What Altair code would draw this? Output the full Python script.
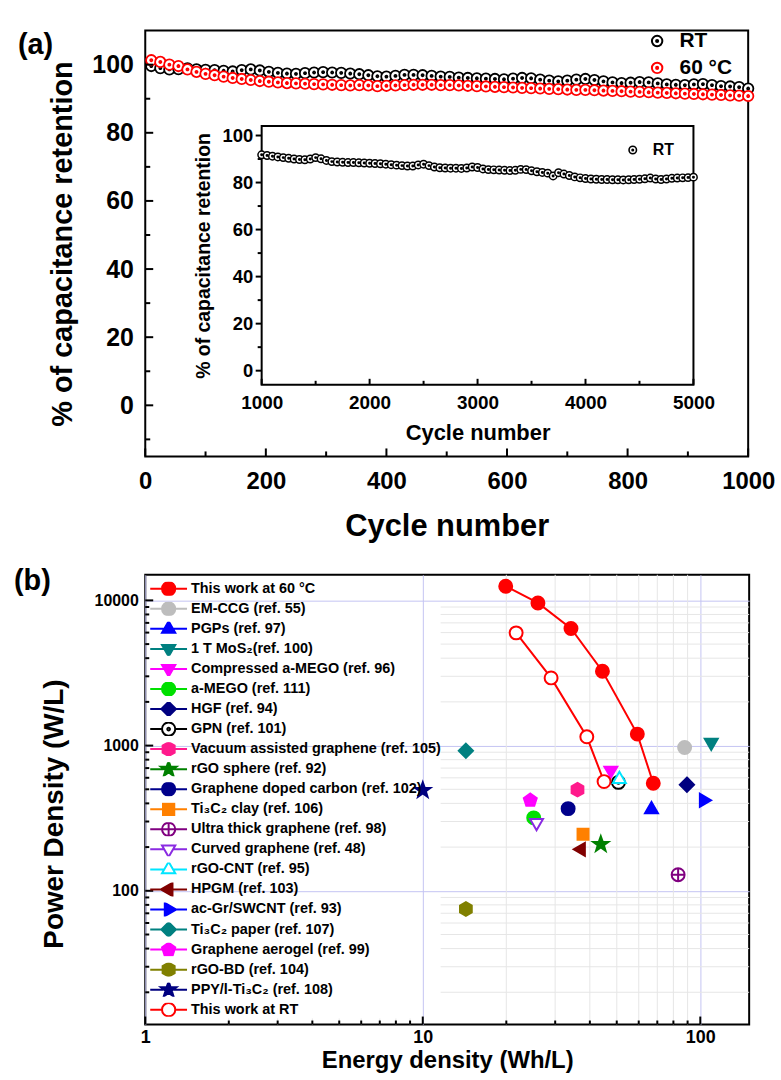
import math
import pandas as pd
import altair as alt

FONT = "Liberation Sans"

# ---------------- panel (a): capacitance retention over 1000 cycles ----------------
CYCLE_START, CYCLE_STEP = 10, 15
rt_retention = [99.6, 99.0, 98.6, 98.7, 98.9, 98.6, 98.5, 98.4, 98.2, 98.0,
                98.4, 98.6, 98.3, 97.9, 97.6, 97.4, 97.3, 97.5, 97.7, 97.8,
                97.7, 97.6, 97.4, 97.2, 96.9, 96.6, 96.5, 96.7, 97.0, 97.0,
                96.9, 96.7, 96.5, 96.4, 96.2, 96.1, 96.0, 95.9, 95.8, 95.7,
                95.9, 96.1, 96.0, 95.6, 95.3, 95.1, 95.3, 95.6, 95.8, 95.5,
                95.1, 94.8, 94.6, 94.7, 94.9, 94.8, 94.5, 94.2, 94.1, 94.0,
                94.2, 94.3, 94.0, 93.7, 93.6, 93.4, 93.0]
hot_retention = [101.3, 100.8, 100.0, 99.6, 98.6, 97.9, 97.3, 96.9, 96.5, 96.1,
                 95.8, 95.5, 95.2, 95.0, 94.8, 94.6, 94.5, 94.4, 94.3, 94.2,
                 94.1, 94.0, 93.9, 94.0, 93.9, 93.7, 93.8, 93.9, 94.0, 94.1,
                 94.1, 94.1, 94.0, 94.0, 93.9, 93.8, 93.7, 93.6, 93.5, 93.4,
                 93.3, 93.2, 93.1, 93.0, 92.9, 92.8, 92.7, 92.6, 92.6, 92.5,
                 92.4, 92.3, 92.2, 92.1, 92.0, 91.9, 91.8, 91.7, 91.6, 91.5,
                 91.4, 91.3, 91.2, 91.1, 91.0, 90.9, 90.8]
series_a = ["RT", "60 \u00b0C"]
colors_a = ["black", "red"]

# inset: RT from 1000 to 5000 cycles
INSET_START, INSET_STEP = 1000, 50
inset_retention = [91.8, 91.5, 91.2, 90.9, 90.6, 90.3, 90.0, 89.8, 89.7, 90.0,
                   90.6, 90.1, 89.4, 88.9, 88.7, 88.6, 88.5, 88.5, 88.4, 88.3,
                   88.2, 88.1, 88.0, 87.8, 87.6, 87.4, 87.2, 87.0, 87.0, 87.5,
                   87.8, 87.2, 86.6, 86.3, 86.2, 86.1, 86.1, 86.0, 86.2, 86.6,
                   86.4, 85.8, 85.5, 85.4, 85.3, 85.2, 85.1, 85.2, 85.6, 85.5,
                   85.0, 84.6, 84.3, 84.0, 82.8, 84.2, 83.6, 83.0, 82.4, 82.0,
                   81.7, 81.5, 81.4, 81.3, 81.3, 81.2, 81.2, 81.1, 81.2, 81.3,
                   81.4, 81.6, 81.9, 81.5, 81.3, 81.5, 81.8, 81.9, 82.0, 82.1,
                   82.3]

a_x_domain = [0, 1000]
a_y_domain = [-15, 110]
a_x_major = [0, 200, 400, 600, 800, 1000]
a_x_minor = [100, 300, 500, 700, 900]
a_y_major = [0, 20, 40, 60, 80, 100]
a_y_minor = [-10, 10, 30, 50, 70, 90]

in_x_domain = [1000, 5000]
in_y_domain = [-6, 104]
in_x_major = [1000, 2000, 3000, 4000, 5000]
in_x_minor = [1500, 2500, 3500, 4500]
in_y_major = [0, 20, 40, 60, 80, 100]
in_y_minor = [10, 30, 50, 70, 90]

# ---------------- panel (b): Ragone plot ----------------
names_b = ["This work at 60 \u00b0C", "EM-CCG (ref. 55)", "PGPs (ref. 97)",
           "1 T MoS\u2082(ref. 100)", "Compressed a-MEGO (ref. 96)", "a-MEGO (ref. 111)",
           "HGF (ref. 94)", "GPN (ref. 101)", "Vacuum assisted graphene (ref. 105)",
           "rGO sphere (ref. 92)", "Graphene doped carbon (ref. 102)",
           "Ti\u2083C\u2082 clay (ref. 106)", "Ultra thick graphene (ref. 98)",
           "Curved graphene (ref. 48)", "rGO-CNT (ref. 95)", "HPGM (ref. 103)",
           "ac-Gr/SWCNT (ref. 93)", "Ti\u2083C\u2082 paper (ref. 107)",
           "Graphene aerogel (ref. 99)", "rGO-BD (ref. 104)",
           "PPY/l-Ti\u2083C\u2082 (ref. 108)", "This work at RT"]
energy_b = [[19.9, 26.0, 34.2, 44.4, 59.3, 67.7], [87.8], [66.7], [109.5], [47.6], [25.1],
            [89.5], [50.7], [36.1], [43.8], [33.4], [37.8], [83.2], [25.7], [51.1], [37.2],
            [102.8], [14.3], [24.4], [14.3], [10.0], [21.7, 29.0, 39.0, 45.0]]
power_b = [[12500, 9600, 6400, 3250, 1200, 550], [970], [363], [1050], [675], [318],
           [538], [558], [497], [209], [368], [245], [129], [294], [587], [193],
           [420], [920], [420], [75], [492], [5975, 2925, 1150, 565]]
stroke_b = ["#ff0000", "#bdbdbd", "#0000ff", "#008080", "#ff00ff", "#00e000",
            "#000080", "#000000", "#ff1a8c", "#008000", "#00008b", "#ff8000",
            "#800080", "#8a2be2", "#00e5ff", "#800000", "#0000ff", "#008080",
            "#ff00ff", "#808000", "#000080", "#ff0000"]
fill_b = ["#ff0000", "#bdbdbd", "#0000ff", "#008080", "#ff00ff", "#00e000",
          "#000080", "#ffffff", "#ff1a8c", "#008000", "#00008b", "#ff8000",
          "#ffffff", "#ffffff", "#ffffff", "#800000", "#0000ff", "#008080",
          "#ff00ff", "#808000", "#000080", "#ffffff"]
kind_b = ["circle", "circle", "tri_up", "tri_down", "tri_down", "circle", "diamond",
          "ringdot", "hexagon", "star", "circle", "square", "circleplus", "tri_down",
          "tri_up", "tri_left", "tri_right", "diamond", "pentagon", "hexagon", "star",
          "circle"]
line_series_b = ["This work at 60 \u00b0C", "This work at RT"]

b_x_domain = [1, 150]
b_y_domain = [12, 15000]
b_x_major = [1, 10, 100]
b_x_minor = [2, 3, 4, 5, 6, 7, 8, 9, 20, 30, 40, 50, 60, 70, 80, 90]
b_y_major = [100, 1000, 10000]
b_y_minor = [20, 30, 40, 50, 60, 70, 80, 90, 200, 300, 400, 500, 600, 700, 800, 900,
             2000, 3000, 4000, 5000, 6000, 7000, 8000, 9000]
grid_h_minor_from = 11.6       # horizontal minor grid begins right of the legend
grid_v_short = [2, 3, 4, 5, 6, 7, 8, 9]
grid_v_short_top = 13.2
grid_v_long = [20, 30, 40, 50, 60, 70, 80, 90]

# ---------------- marker geometry ----------------
def f(v):
    return f"{v:.3f}"

def circle_path(r):
    return f"M{f(-r)},0 A{f(r)},{f(r)} 0 1,1 {f(r)},0 A{f(r)},{f(r)} 0 1,1 {f(-r)},0 Z"

def poly_path(pts):
    return "M" + " L".join(f"{f(x)},{f(y)}" for x, y in pts) + " Z"

def regular(n, r, start_deg=-90.0, inner=None):
    pts = []
    total = n * 2 if inner else n
    for k in range(total):
        ang = math.radians(start_deg + k * 360.0 / total)
        rad = (r if k % 2 == 0 else inner) if inner else r
        pts.append((rad * math.cos(ang), rad * math.sin(ang)))
    return pts

def marker(kind, s):
    """Return (path, left edge, right edge) of a marker of scale s."""
    if kind == "circle":
        return circle_path(s), s, s
    if kind == "ringdot":
        return circle_path(s) + " " + circle_path(0.2 * s), s, s
    if kind == "circleplus":
        return circle_path(s) + f" M{f(-s)},0 L{f(s)},0 M0,{f(-s)} L0,{f(s)}", s, s
    if kind == "square":
        a = 0.85 * s
        return poly_path([(-a, -a), (a, -a), (a, a), (-a, a)]), a, a
    if kind == "diamond":
        a = 1.1 * s
        return poly_path([(0, -a), (a, 0), (0, a), (-a, 0)]), a, a
    if kind == "tri_up":
        return poly_path([(0, -1.15 * s), (s, 0.58 * s), (-s, 0.58 * s)]), 0.66 * s, 0.66 * s
    if kind == "tri_down":
        return poly_path([(0, 1.15 * s), (s, -0.58 * s), (-s, -0.58 * s)]), 0.66 * s, 0.66 * s
    if kind == "tri_right":
        return poly_path([(1.15 * s, 0), (-0.58 * s, -s), (-0.58 * s, s)]), 0.58 * s, 1.15 * s
    if kind == "tri_left":
        return poly_path([(-1.15 * s, 0), (0.58 * s, -s), (0.58 * s, s)]), 1.15 * s, 0.58 * s
    if kind == "star":
        return poly_path(regular(5, 1.25 * s, inner=0.5 * s)), 0.8 * s, 0.8 * s
    if kind == "pentagon":
        return poly_path(regular(5, 1.05 * s)), 0.95 * s, 0.95 * s
    if kind == "hexagon":
        return poly_path(regular(6, 1.05 * s)), 0.91 * s, 0.91 * s
    raise ValueError(kind)

LEGEND_M = 0.36
plot_paths_b = [marker(k, 1.0)[0] for k in kind_b]
legend_paths_b = []
for k in kind_b:
    p, le, re = marker(k, LEGEND_M)
    legend_paths_b.append(p + f" M-1,0 L{f(-le)},0 M{f(re)},0 L1,0")
RINGDOT = marker("ringdot", 1.0)[0]

# ---------------- helpers ----------------
def rule_x(vals, scale, y0, length):
    return alt.Chart(pd.DataFrame({"v": vals})).mark_rule(color="black", strokeWidth=2).encode(
        x=alt.X("v:Q", scale=scale), y=alt.value(y0), y2=alt.value(y0 - length))

def rule_y(vals, scale, x0, length):
    return alt.Chart(pd.DataFrame({"v": vals})).mark_rule(color="black", strokeWidth=2).encode(
        y=alt.Y("v:Q", scale=scale), x=alt.value(x0), x2=alt.value(x0 + length))

def panel_tag(text, dx, dy):
    return alt.Chart(pd.DataFrame({"t": [text]})).mark_text(
        align="left", baseline="middle", font=FONT, fontSize=29, fontWeight="bold", color="black"
    ).encode(text="t:N", x=alt.value(dx), y=alt.value(dy))

# ---------------- panel (a) ----------------
WA, HA = 606, 428
IN_LEFT, IN_RIGHT, IN_TOP, IN_BOTTOM = 117, 551, 96, 356

rows = []
for name, vals in zip(series_a, [rt_retention, hot_retention]):
    for i, v in enumerate(vals):
        rows.append({"cycle": CYCLE_START + i * CYCLE_STEP, "ret": v, "series": name})
df_a = pd.DataFrame(rows)

ax = alt.Scale(domain=a_x_domain, nice=False, zero=False)
ay = alt.Scale(domain=a_y_domain, nice=False, zero=False)

main_points = alt.Chart(df_a).mark_point(
    shape=RINGDOT, filled=True, fill="white", strokeWidth=1.8, size=110, opacity=1
).encode(
    x=alt.X("cycle:Q", scale=ax, axis=alt.Axis(
        orient="bottom", values=a_x_major, format="d", ticks=False, domain=False, grid=False,
        labelFlush=False, labelFontSize=24, labelPadding=13, title="Cycle number",
        titleFontSize=31, titlePadding=18)),
    y=alt.Y("ret:Q", scale=ay, axis=alt.Axis(
        orient="left", values=a_y_major, format="d", ticks=False, domain=False, grid=False,
        labelFlush=False, labelFontSize=25, labelPadding=12, title="% of capacitance retention",
        titleFontSize=29, titlePadding=14)),
    stroke=alt.Stroke("series:N", scale=alt.Scale(domain=series_a, range=colors_a),
                      legend=alt.Legend(title=None, orient="none", legendX=504, legendY=0,
                                        labelFontSize=21, symbolType=RINGDOT, symbolSize=110,
                                        symbolStrokeWidth=2, symbolFillColor="white",
                                        rowPadding=5, labelOffset=12, padding=0)),
)

main_group = alt.layer(
    main_points,
    rule_x(a_x_major, ax, HA, 8), rule_x(a_x_minor, ax, HA, 5),
    rule_y(a_y_major, ay, 0, 8), rule_y(a_y_minor, ay, 0, 5),
    panel_tag("(a)", -128, 15),
)

ix = alt.Scale(domain=in_x_domain, range=[IN_LEFT, IN_RIGHT], nice=False, zero=False)
iy = alt.Scale(domain=in_y_domain, range=[IN_BOTTOM, IN_TOP], nice=False, zero=False)

df_frame = pd.DataFrame({"x0": [in_x_domain[0]], "x1": [in_x_domain[1]],
                         "y0": [in_y_domain[0]], "y1": [in_y_domain[1]]})
inset_frame = alt.Chart(df_frame).mark_rect(fill="white", stroke="black", strokeWidth=2).encode(
    x=alt.X("x0:Q", scale=ix), x2="x1:Q",
    y=alt.Y("y0:Q", scale=iy), y2="y1:Q")

df_in = pd.DataFrame({"cycle": [INSET_START + i * INSET_STEP for i in range(len(inset_retention))],
                      "ret": inset_retention, "series": ["RT"] * len(inset_retention)})
inset_points = alt.Chart(df_in).mark_point(
    shape=RINGDOT, filled=True, fill="white", strokeWidth=1.5, size=56, opacity=1
).encode(
    x=alt.X("cycle:Q", scale=ix, axis=alt.Axis(
        orient="bottom", offset=-(HA - IN_BOTTOM), values=in_x_major, format="d", ticks=False,
        domain=False, grid=False, labelFlush=False, labelFontSize=19, labelPadding=9,
        title="Cycle number", titleFontSize=22, titlePadding=10)),
    y=alt.Y("ret:Q", scale=iy, axis=alt.Axis(
        orient="left", offset=-IN_LEFT, values=in_y_major, format="d", ticks=False,
        domain=False, grid=False, labelFlush=False, labelFontSize=18.5, labelPadding=9,
        title="% of capacitance retention", titleFontSize=19.5, titlePadding=9)),
    stroke=alt.Stroke("series:N", scale=alt.Scale(domain=["RT"], range=["black"]),
                      legend=alt.Legend(title=None, orient="none", legendX=482, legendY=112,
                                        labelFontSize=16, symbolType=RINGDOT, symbolSize=56,
                                        symbolStrokeWidth=1.6, symbolFillColor="white",
                                        labelOffset=12, padding=0)),
)

inset_group = alt.layer(
    inset_frame, inset_points,
    rule_x(in_x_major, ix, IN_BOTTOM, 6), rule_x(in_x_minor, ix, IN_BOTTOM, 4),
    rule_y(in_y_major, iy, IN_LEFT, -6), rule_y(in_y_minor, iy, IN_LEFT, -4),
)

panel_a = alt.layer(main_group, inset_group).resolve_scale(
    x="independent", y="independent", stroke="independent"
).properties(width=WA, height=HA)

# ---------------- panel (b) ----------------
WB, HB = 607, 452
rows = []
for name, es, ps in zip(names_b, energy_b, power_b):
    for e, p in zip(es, ps):
        rows.append({"series": name, "energy": e, "power": p})
df_b = pd.DataFrame(rows)

bx = alt.Scale(type="log", domain=b_x_domain, nice=False)
by = alt.Scale(type="log", domain=b_y_domain, nice=False)

grid_h = alt.Chart(pd.DataFrame({"v": b_y_minor, "a": grid_h_minor_from, "b": b_x_domain[1]})
                   ).mark_rule(color="#e6e6e6", strokeWidth=1).encode(
    y=alt.Y("v:Q", scale=by), x=alt.X("a:Q", scale=bx), x2="b:Q")
grid_v1 = alt.Chart(pd.DataFrame({"v": grid_v_long, "a": b_y_domain[0], "b": b_y_domain[1]})
                    ).mark_rule(color="#e6e6e6", strokeWidth=1).encode(
    x=alt.X("v:Q", scale=bx), y=alt.Y("a:Q", scale=by), y2="b:Q")
grid_v2 = alt.Chart(pd.DataFrame({"v": grid_v_short, "a": b_y_domain[0], "b": grid_v_short_top})
                    ).mark_rule(color="#e6e6e6", strokeWidth=1).encode(
    x=alt.X("v:Q", scale=bx), y=alt.Y("a:Q", scale=by), y2="b:Q")

x_axis_b = alt.Axis(orient="bottom", values=b_x_major, format="d", ticks=False, domain=False,
                    grid=True, gridColor="#c4c4f2", gridWidth=1, labelFlush=False,
                    labelFontSize=18, labelPadding=4,
                    title="Energy density (Wh/L)", titleFontSize=24, titlePadding=2)
y_axis_b = alt.Axis(orient="left", values=b_y_major, format="d", ticks=False, domain=False,
                    grid=True, gridColor="#c4c4f2", gridWidth=1, labelFlush=False,
                    labelFontSize=16, labelPadding=7,
                    title="Power Density (W/L)", titleFontSize=28, titlePadding=26, titleY=240)

lines_b = alt.Chart(df_b).transform_filter(
    alt.FieldOneOfPredicate(field="series", oneOf=line_series_b)
).mark_line(color="red", strokeWidth=2).encode(
    x=alt.X("energy:Q", scale=bx, axis=x_axis_b),
    y=alt.Y("power:Q", scale=by, axis=y_axis_b),
    detail="series:N", order="energy:Q")

points_b = alt.Chart(df_b).mark_point(filled=True, size=169, strokeWidth=2, opacity=1).encode(
    x=alt.X("energy:Q", scale=bx),
    y=alt.Y("power:Q", scale=by),
    shape=alt.Shape("series:N", scale=alt.Scale(domain=names_b, range=plot_paths_b), legend=None),
    fill=alt.Fill("series:N", scale=alt.Scale(domain=names_b, range=fill_b), legend=None),
    stroke=alt.Stroke("series:N", scale=alt.Scale(domain=names_b, range=stroke_b), legend=None),
)

leg = alt.Legend(title=None, orient="none", legendX=4, legendY=7, labelFontSize=14.5,
                 labelLimit=400, symbolSize=1369, symbolStrokeWidth=2, clipHeight=14,
                 rowPadding=5.15, labelOffset=3, padding=0)
legend_b = alt.Chart(df_b).transform_filter("false").mark_point(
    filled=True, strokeWidth=2, opacity=1
).encode(
    x=alt.X("energy:Q", scale=bx),
    y=alt.Y("power:Q", scale=by),
    shape=alt.Shape("series:N", scale=alt.Scale(domain=names_b, range=legend_paths_b), legend=leg),
    fill=alt.Fill("series:N", scale=alt.Scale(domain=names_b, range=fill_b), legend=leg),
    stroke=alt.Stroke("series:N", scale=alt.Scale(domain=names_b, range=stroke_b), legend=leg),
)

panel_b = alt.layer(
    grid_h, grid_v1, grid_v2, lines_b, points_b, legend_b,
    rule_x(b_x_major, bx, HB, 8), rule_x(b_x_minor, bx, HB, 4),
    rule_y(b_y_major, by, 0, 8), rule_y(b_y_minor, by, 0, 4),
    panel_tag("(b)", -132, 6),
).resolve_scale(shape="independent", fill="independent", stroke="independent"
).properties(width=WB, height=HB)

chart = alt.vconcat(panel_a, panel_b, spacing=24).configure(
    font=FONT, padding={"left": 13, "top": 27, "right": 5, "bottom": 0}
).configure_view(stroke="black", strokeWidth=2).configure_axis(
    labelFont=FONT, titleFont=FONT, labelFontWeight="bold", titleFontWeight="bold",
    labelColor="black", titleColor="black"
).configure_legend(labelFont=FONT, labelFontWeight="bold", labelColor="black")

chart.save("out.html", embed_options={"renderer": "svg", "actions": False})
